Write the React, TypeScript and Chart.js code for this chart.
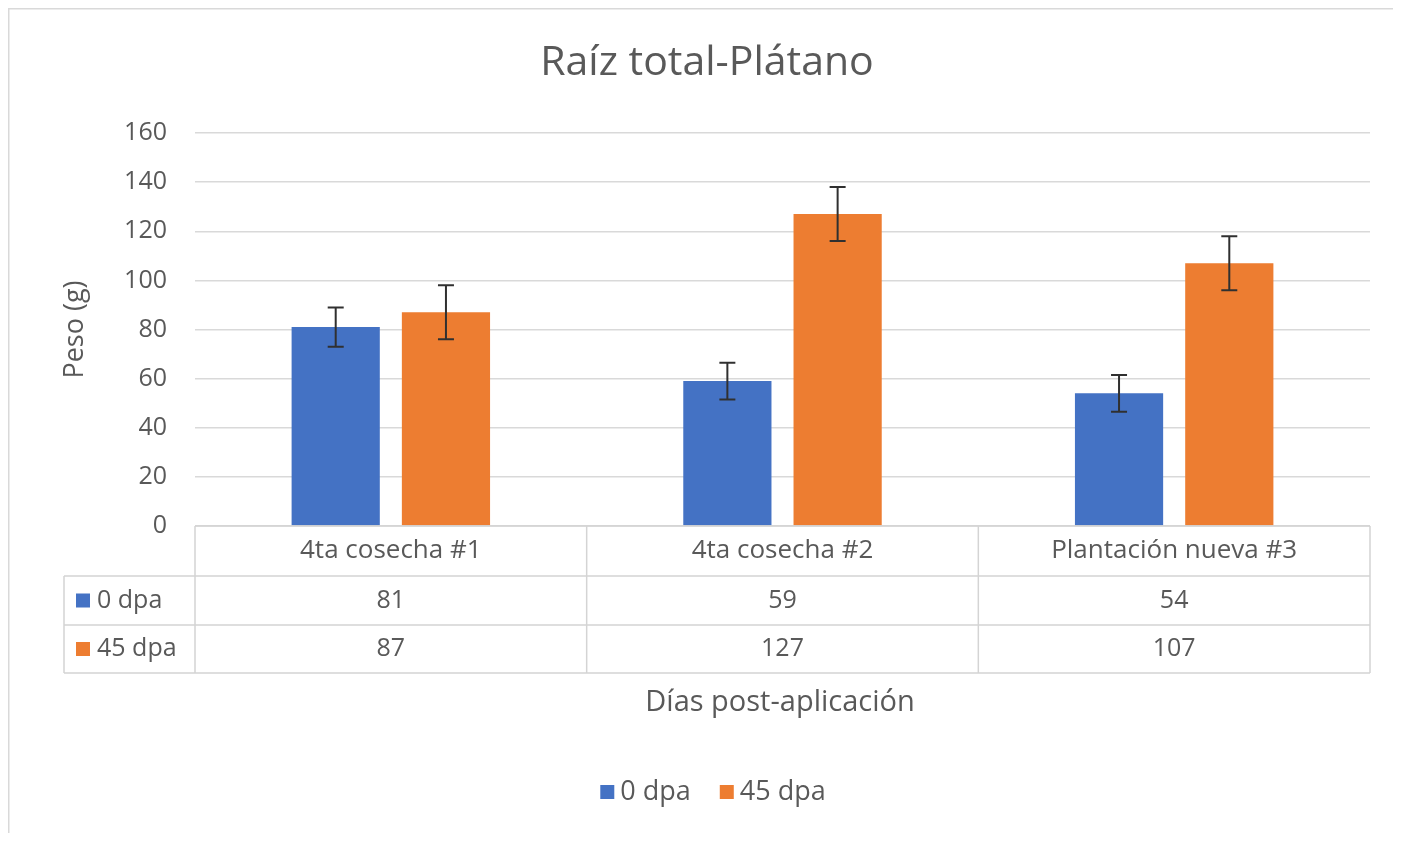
import React, { useEffect, useRef } from "react";
import { Chart, registerables } from "chart.js";

Chart.register(...registerables);

const categories = ["4ta cosecha #1", "4ta cosecha #2", "Plantación nueva #3"];
const seriesNames = ["0 dpa", "45 dpa"];
const values0 = [81, 59, 54];
const values45 = [87, 127, 107];
const errors0 = [8, 7.5, 7.5];
const errors45 = [11, 11, 11];
const yTicks = [0, 20, 40, 60, 80, 100, 120, 140, 160];
const colors = ["#4472C4", "#ED7D31"];
const titleText = "Raíz total-Plátano";
const yTitle = "Peso (g)";
const xTitle = "Días post-aplicación";

const FONT = "'Open Sans', 'DejaVu Sans', sans-serif";
const TEXT = "#595959";
const LINE = "#d4d4d4";

const errorsAll = [errors0, errors45];
const valuesAll = [values0, values45];

const customPlugin = {
  id: "excelExtras",
  afterDatasetsDraw(chart: any) {
    const ctx = chart.ctx;
    const y = chart.scales.y;
    ctx.save();
    ctx.strokeStyle = "#303030";
    ctx.lineWidth = 2;
    chart.data.datasets.forEach((ds: any, di: number) => {
      const meta = chart.getDatasetMeta(di);
      meta.data.forEach((el: any, i: number) => {
        const v = ds.data[i];
        const e = errorsAll[di][i];
        const yt = y.getPixelForValue(v + e);
        const yb = y.getPixelForValue(v - e);
        const x = el.x;
        ctx.beginPath();
        ctx.moveTo(x, yt);
        ctx.lineTo(x, yb);
        ctx.moveTo(x - 8, yt);
        ctx.lineTo(x + 8, yt);
        ctx.moveTo(x - 8, yb);
        ctx.lineTo(x + 8, yb);
        ctx.stroke();
      });
    });
    ctx.restore();
  },
  afterDraw(chart: any) {
    const ctx = chart.ctx;
    const area = chart.chartArea;
    const xs = chart.scales.x;
    ctx.save();

    // outer border (top & left)
    ctx.strokeStyle = "#d9d9d9";
    ctx.lineWidth = 1.5;
    ctx.beginPath();
    ctx.moveTo(0, 0.75);
    ctx.lineTo(chart.width, 0.75);
    ctx.moveTo(0.75, 0);
    ctx.lineTo(0.75, chart.height);
    ctx.stroke();

    // title
    ctx.fillStyle = TEXT;
    ctx.textAlign = "center";
    ctx.textBaseline = "middle";
    ctx.font = `41px ${FONT}`;
    ctx.fillText(titleText, 699, 55);

    // data table
    const n = categories.length;
    const bounds: number[] = [area.left];
    for (let i = 0; i < n - 1; i++) {
      bounds.push((xs.getPixelForValue(i) + xs.getPixelForValue(i + 1)) / 2);
    }
    bounds.push(area.right);
    const rowH = [50, 49, 48];
    const rowTop = [area.bottom, area.bottom + rowH[0], area.bottom + rowH[0] + rowH[1]];
    const tableBottom = rowTop[2] + rowH[2];
    const leftX = 56;

    ctx.strokeStyle = LINE;
    ctx.lineWidth = 1.5;
    ctx.beginPath();
    ctx.moveTo(area.left, area.bottom);
    ctx.lineTo(area.right, area.bottom);
    for (let r = 1; r < 3; r++) {
      ctx.moveTo(leftX, rowTop[r]);
      ctx.lineTo(area.right, rowTop[r]);
    }
    ctx.moveTo(leftX, tableBottom);
    ctx.lineTo(area.right, tableBottom);
    ctx.moveTo(leftX, rowTop[1]);
    ctx.lineTo(leftX, tableBottom);
    bounds.forEach((bx) => {
      ctx.moveTo(bx, area.bottom);
      ctx.lineTo(bx, tableBottom);
    });
    ctx.stroke();

    ctx.fillStyle = TEXT;
    ctx.font = `26px ${FONT}`;
    categories.forEach((c, i) => {
      const cx = (bounds[i] + bounds[i + 1]) / 2;
      ctx.fillText(c, cx, rowTop[0] + rowH[0] / 2);
    });
    ctx.font = `25px ${FONT}`;
    valuesAll.forEach((vals, r) => {
      const cy = rowTop[r + 1] + rowH[r + 1] / 2;
      vals.forEach((v, i) => {
        const cx = (bounds[i] + bounds[i + 1]) / 2;
        ctx.fillStyle = TEXT;
        ctx.textAlign = "center";
        ctx.fillText(String(v), cx, cy);
      });
      ctx.fillStyle = colors[r];
      ctx.fillRect(68, cy - 7, 14, 14);
      ctx.fillStyle = TEXT;
      ctx.textAlign = "left";
      ctx.fillText(seriesNames[r], 89, cy);
    });

    // x title
    ctx.textAlign = "center";
    ctx.font = `29px ${FONT}`;
    ctx.fillStyle = TEXT;
    ctx.fillText(xTitle, 772, 695);

    // legend
    ctx.font = `27px ${FONT}`;
    const sq = 14;
    const gapIn = 6;
    const gapOut = 29;
    const w0 = ctx.measureText(seriesNames[0]).width;
    const w1 = ctx.measureText(seriesNames[1]).width;
    const total = sq + gapIn + w0 + gapOut + sq + gapIn + w1;
    let lx = 705 - total / 2;
    const ly = 784;
    ctx.textAlign = "left";
    [w0, w1].forEach((w, i) => {
      ctx.fillStyle = colors[i];
      ctx.fillRect(lx, ly - sq / 2, sq, sq);
      lx += sq + gapIn;
      ctx.fillStyle = TEXT;
      ctx.fillText(seriesNames[i], lx, ly);
      lx += w + gapOut;
    });

    ctx.restore();
  },
};

export default function App() {
  const ref = useRef<HTMLCanvasElement | null>(null);
  useEffect(() => {
    if (!ref.current) return;
    const chart = new Chart(ref.current, {
      type: "bar",
      data: {
        labels: categories,
        datasets: [
          {
            label: seriesNames[0],
            data: values0,
            backgroundColor: colors[0],
            categoryPercentage: 0.563,
            barPercentage: 0.8,
          },
          {
            label: seriesNames[1],
            data: values45,
            backgroundColor: colors[1],
            categoryPercentage: 0.563,
            barPercentage: 0.8,
          },
        ],
      },
      options: {
        responsive: false,
        animation: false,
        layout: { padding: { top: 125, right: 23, bottom: 307, left: 0 } },
        plugins: {
          legend: { display: false },
          title: { display: false },
          tooltip: { enabled: false },
        },
        scales: {
          x: { display: false },
          y: {
            min: 0,
            max: 160,
            afterBuildTicks: (scale: any) => {
              scale.ticks = yTicks.map((v) => ({ value: v }));
            },
            afterFit: (scale: any) => {
              scale.width = 187;
            },
            ticks: {
              color: TEXT,
              font: { family: FONT, size: 25 },
              padding: 28,
            },
            grid: { color: "#d9d9d9", lineWidth: 1.5, drawTicks: false },
            border: { display: false },
            title: {
              display: true,
              text: yTitle,
              color: TEXT,
              font: { family: FONT, size: 27 },
              padding: { top: 51, bottom: 0 },
            },
          },
        },
      },
      plugins: [customPlugin],
    });
    if ((document as any).fonts && (document as any).fonts.load) {
      (document as any).fonts.load(`25px 'Open Sans'`).then(() => chart.update()).catch(() => {});
    }
    return () => chart.destroy();
  }, []);
  return (
    <div style={{ width: 1385, height: 825 }}>
      <canvas ref={ref} width={1385} height={825} style={{ display: "block" }} />
    </div>
  );
}
